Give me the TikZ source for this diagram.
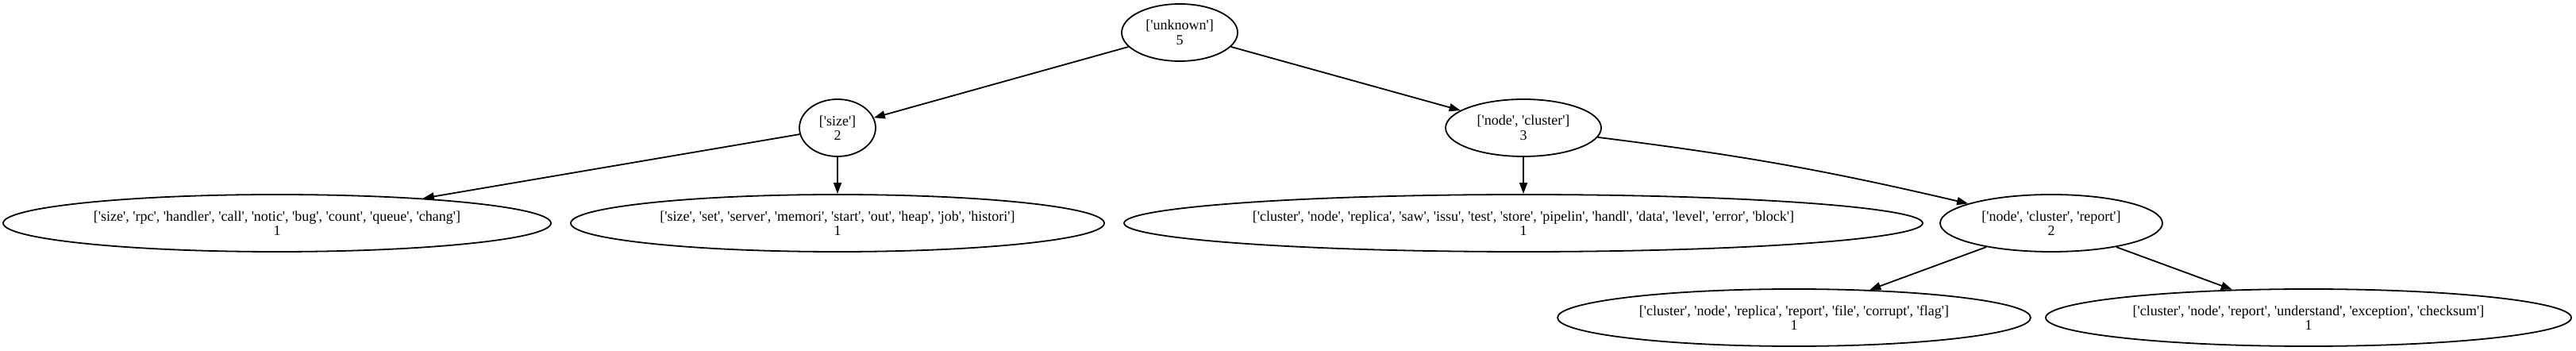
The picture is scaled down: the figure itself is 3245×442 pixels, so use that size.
\documentclass[tikz,border=0pt]{standalone}
\usepackage{fontspec}
\newfontfamily\gvfont{Liberation Serif}[Ligatures=TeXOff]
\usetikzlibrary{shapes.geometric,arrows.meta}

\tikzset{
  topic/.style={ellipse, draw, line width=0.9pt, inner sep=0pt, align=center,
    minimum height=36pt, minimum width=#1,
    font=\gvfont\fontsize{9pt}{9.2pt}\selectfont},
  link/.style={-{Triangle[length=7pt,width=5pt]}, line width=0.9pt},
}

\begin{document}
\begin{tikzpicture}[x=0.5pt,y=-0.5pt]
			\useasboundingbox (0,0) rectangle (3245,442);
			% topic tree
			\node[topic=73pt] (unknown) at (1486,41) {['unknown']\\5};
			\node[topic=48pt] (size) at (1055,161) {['size']\\2};
			\node[topic=98pt] (nodecluster) at (1919,161) {['node', 'cluster']\\3};

			\node[topic=345pt] (sizerpc) at (349,281) {['size', 'rpc', 'handler', 'call', 'notic', 'bug', 'count', 'queue', 'chang']\\1};
			\node[topic=336pt] (sizeset) at (1055,281) {['size', 'set', 'server', 'memori', 'start', 'out', 'heap', 'job', 'histori']\\1};
			\node[topic=503pt] (clusterblock) at (1919,281) {['cluster', 'node', 'replica', 'saw', 'issu', 'test', 'store', 'pipelin', 'handl', 'data', 'level', 'error', 'block']\\1};
			\node[topic=140pt] (ncreport) at (2584,281) {['node', 'cluster', 'report']\\2};

			\node[topic=298pt] (ncrflag) at (2260,400) {['cluster', 'node', 'replica', 'report', 'file', 'corrupt', 'flag']\\1};
			\node[topic=331pt] (ncrchecksum) at (2908,400) {['cluster', 'node', 'report', 'understand', 'exception', 'checksum']\\1};

			\draw[link] (unknown) -- (size);
			\draw[link] (unknown) -- (nodecluster);
			\draw[link] (size) -- (sizerpc);
			\draw[link] (size) -- (sizeset);
			\draw[link] (nodecluster) -- (clusterblock);
			\draw[link] (nodecluster) to[bend left=3] (ncreport);
			\draw[link] (ncreport) -- (ncrflag);
			\draw[link] (ncreport) -- (ncrchecksum);
		\end{tikzpicture}
\end{document}
